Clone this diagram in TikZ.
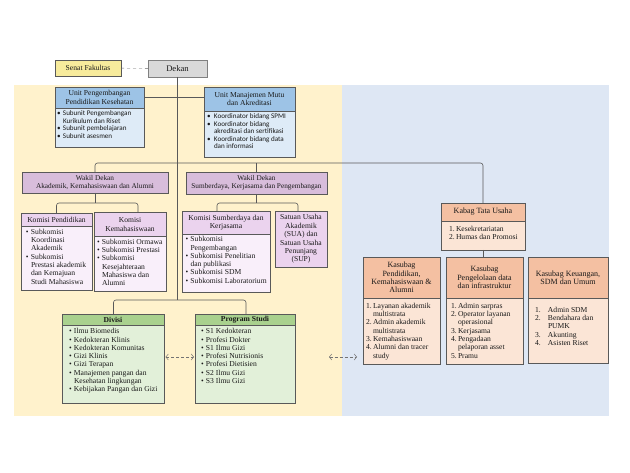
\documentclass[tikz,border=0pt]{standalone}
\usepackage{fontspec}
\setmainfont{Liberation Serif}
\newfontfamily\carlito{Carlito}
\usetikzlibrary{arrows.meta}
\definecolor{bgY}{HTML}{FFF2CC}
\definecolor{bgB}{HTML}{DEE7F4}
\definecolor{senat}{HTML}{F7EB9C}
\definecolor{dekan}{HTML}{D9D9D9}
\definecolor{uH}{HTML}{9DC3E6}
\definecolor{uB}{HTML}{DEEBF7}
\definecolor{wd}{HTML}{D8BDDB}
\definecolor{kH}{HTML}{EBD3EE}
\definecolor{kB}{HTML}{F9EFFA}
\definecolor{gH}{HTML}{A9D18E}
\definecolor{gB}{HTML}{E2F0D9}
\definecolor{oH}{HTML}{F4C0A2}
\definecolor{oB}{HTML}{FBE5D6}
\definecolor{ln}{HTML}{595959}
\newcommand{\hdrfont}{\fontsize{7.6}{8.4}\selectfont}
\newcommand{\wdfont}{\fontsize{7.3}{8.4}\selectfont}
\newcommand{\ksfont}{\fontsize{8}{8.4}\selectfont}
\newcommand{\bodyfont}{\fontsize{7.6}{8.3}\selectfont}
\newcommand{\unitfont}{\carlito\fontsize{7.1}{7.4}\selectfont}
\newcommand{\bitem}[2][6pt]{\par\noindent\hangindent=#1\hangafter=1\makebox[#1][l]{\textbullet}#2}
\newcommand{\numit}[3][7pt]{\par\noindent\hangindent=#1\hangafter=1\makebox[#1][l]{#2}#3}
\newcommand{\bb}[3]{\parbox[c][#2][t]{#1}{\raggedright #3}}
\begin{document}
\begin{tikzpicture}[x=1pt,y=-1pt,
  hdr/.style={draw=ln, line width=0.6pt, inner sep=0pt, outer sep=0pt, anchor=north west, align=center, font=\hdrfont, text=black!90},
  bdy/.style={draw=ln, line width=0.6pt, inner sep=0pt, outer sep=0pt, anchor=north west, font=\bodyfont, text=black!90},
  conn/.style={draw=ln, line width=0.6pt, rounded corners=2.5pt},
  darr/.style={draw=black!55, densely dashed, line width=0.5pt, {Straight Barb[length=2.5pt,width=6pt]}-{Straight Barb[length=2.5pt,width=6pt]}}]
\useasboundingbox (0,0) rectangle (630,473);
\fill[bgY] (14,85) rectangle (342,416);
\fill[bgB] (342,85) rectangle (609,416);

% top
\node[hdr, fill=senat, minimum width=66pt, minimum height=16pt, font=\fontsize{7.6}{8}\selectfont] (senat) at (55,60) {Senat Fakultas};
\node[hdr, fill=dekan, draw=black!50, minimum width=59pt, minimum height=17pt, font=\fontsize{8.6}{9}\selectfont] (dekan) at (148,60) {Dekan};

% units
\node[hdr, fill=uH, minimum width=89pt, minimum height=21pt] (upph) at (55,87) {Unit Pengembangan\\Pendidikan Kesehatan};
\node[bdy, fill=uB, font=\unitfont] (uppb) at (upph.south west) {\bb{89pt}{39pt}{\leftskip=2pt\relax\vspace*{3pt}\bitem{Subunit Pengembangan\newline Kurikulum dan Riset}\bitem{Subunit pembelajaran}\bitem{Subunit asesmen}}};
\node[hdr, fill=uH, minimum width=91pt, minimum height=24pt] (umuh) at (204,87) {Unit Manajemen Mutu\\dan Akreditasi};
\node[bdy, fill=uB, font=\unitfont] (umub) at (umuh.south west) {\bb{91pt}{46pt}{\leftskip=3pt\relax\vspace*{3pt}\bitem[7pt]{Koordinator bidang SPMI}\bitem[7pt]{Koordinator bidang\newline akreditasi dan sertifikasi}\bitem[7pt]{Koordinator bidang data\newline dan informasi}}};

% wakil dekan
\node[hdr, fill=wd, minimum width=146pt, minimum height=21pt, font=\wdfont] (wd1) at (22,172) {Wakil Dekan\\Akademik, Kemahasiswaan dan Alumni};
\node[hdr, fill=wd, minimum width=141pt, minimum height=22pt, font=\wdfont] (wd2) at (186,172) {Wakil Dekan\\Sumberdaya, Kerjasama dan Pengembangan};

% komisi
\node[hdr, fill=kH, minimum width=71pt, minimum height=13pt] (kph) at (21,213) {Komisi Pendidikan};
\node[bdy, fill=kB] (kpb) at (kph.south west) {\bb{71pt}{64pt}{\leftskip=5pt\relax\vspace*{3pt}\bitem[5pt]{Subkomisi\newline Koordinasi\newline Akademik}\bitem[5pt]{Subkomisi\newline Prestasi akademik\newline dan Kemajuan\newline Studi Mahasiswa}}};
\node[hdr, fill=kH, minimum width=72pt, minimum height=24pt] (kkh) at (94,212.5) {Komisi\\Kemahasiswaan};
\node[bdy, fill=kB] (kkb) at (kkh.south west) {\bb{72pt}{55pt}{\leftskip=3pt\relax\vspace*{2.5pt}\bitem[5pt]{Subkomisi Ormawa}\bitem[5pt]{Subkomisi Prestasi}\bitem[5pt]{Subkomisi\newline Kesejahteraan\newline Mahasiswa dan\newline Alumni}}};
\node[hdr, fill=kH, minimum width=88pt, minimum height=23pt] (ksh) at (182,211) {Komisi Sumberdaya dan\\Kerjasama};
\node[bdy, fill=kB] (ksb) at (ksh.south west) {\bb{88pt}{58pt}{\leftskip=3.5pt\relax\vspace*{2.5pt}\bitem[5pt]{Subkomisi\newline Pengembangan}\bitem[5pt]{Subkomisi Penelitian\newline dan publikasi}\bitem[5pt]{Subkomisi SDM}\bitem[5pt]{Subkomisi Laboratorium}}};
\node[hdr, fill=kH, minimum width=52pt, minimum height=56pt] (sua) at (275,211) {Satuan Usaha\\Akademik\\(SUA) dan\\Satuan Usaha\\Penunjang\\(SUP)};

% divisi & prodi
\node[hdr, fill=gH, minimum width=102pt, minimum height=11.5pt, font=\hdrfont\bfseries] (divh) at (62,314) {Divisi};
\node[bdy, fill=gB] (divb) at (divh.south west) {\bb{102pt}{77.5pt}{\leftskip=7pt\relax\vspace*{3pt}\bitem[5pt]{Ilmu Biomedis}\bitem[5pt]{Kedokteran Klinis}\bitem[5pt]{Kedokteran Komunitas}\bitem[5pt]{Gizi Klinis}\bitem[5pt]{Gizi Terapan}\bitem[5pt]{Manajemen pangan dan\newline Kesehatan lingkungan}\bitem[5pt]{Kebijakan Pangan dan Gizi}}};
\node[hdr, fill=gH, minimum width=100pt, minimum height=11.5pt, font=\hdrfont\bfseries] (prh) at (195,314) {Program Studi};
\node[bdy, fill=gB] (prb) at (prh.south west) {\bb{100pt}{78pt}{\leftskip=6pt\relax\vspace*{3pt}\bitem[5pt]{S1 Kedokteran}\bitem[5pt]{Profesi Dokter}\bitem[5pt]{S1 Ilmu Gizi}\bitem[5pt]{Profesi Nutrisionis}\bitem[5pt]{Profesi Dietisien}\bitem[5pt]{S2 Ilmu Gizi}\bitem[5pt]{S3 Ilmu Gizi}}};

% tata usaha
\node[hdr, fill=oH, minimum width=84pt, minimum height=18pt, font=\ksfont] (kabh) at (441,203) {Kabag Tata Usaha};
\node[bdy, fill=oB] (kabb) at (kabh.south west) {\bb{84pt}{29pt}{\leftskip=8pt\relax\vspace*{5pt}\numit[7pt]{1.}{Kesekretariatan}\numit[7pt]{2.}{Humas dan Promosi}}};
\node[hdr, fill=oH, minimum width=77pt, minimum height=41pt, font=\ksfont] (kpdh) at (363,257) {Kasubag\\Pendidikan,\\Kemahasiswaan \&\\Alumni};
\node[bdy, fill=oB] (kpdb) at (kpdh.south west) {\bb{77pt}{66pt}{\leftskip=3pt\relax\vspace*{5pt}\numit[7pt]{1.}{Layanan akademik\newline multistrata}\numit[7pt]{2.}{Admin akademik\newline multistrata}\numit[7pt]{3.}{Kemahasiswaan}\numit[7pt]{4.}{Alumni dan tracer\newline study}}};
\node[hdr, fill=oH, minimum width=77pt, minimum height=41pt, font=\ksfont] (kplh) at (446,257) {Kasubag\\Pengelolaan data\\dan infrastruktur};
\node[bdy, fill=oB] (kplb) at (kplh.south west) {\bb{77pt}{66pt}{\leftskip=5pt\relax\vspace*{5pt}\numit[7pt]{1.}{Admin sarpras}\numit[7pt]{2.}{Operator layanan\newline operasional}\numit[7pt]{3.}{Kerjasama}\numit[7pt]{4.}{Pengadaan\newline pelaporan asset}\numit[7pt]{5.}{Pramu}}};
\node[hdr, fill=oH, minimum width=80pt, minimum height=41pt, font=\ksfont] (kkuh) at (528,257) {Kasubag Keuangan,\\SDM dan Umum};
\node[bdy, fill=oB] (kkub) at (kkuh.south west) {\bb{80pt}{65pt}{\leftskip=7pt\relax\vspace*{9pt}\numit[13pt]{1.}{Admin SDM}\numit[13pt]{2.}{Bendahara dan\newline PUMK}\numit[13pt]{3.}{Akunting}\numit[13pt]{4.}{Asisten Riset}}};

% connectors
\coordinate (hbar) at (0,163);
\coordinate (b1) at (0,203);
\coordinate (b3) at (0,300);
\coordinate (kkdrop) at (138,212.5);
\coordinate (ksdrop) at (217,211);
\coordinate (suadrop) at (298,211);
\coordinate (divdrop) at (113.5,314);
\coordinate (prdrop) at (246,314);
\coordinate (kabdrop) at (483,203);
\coordinate (arry) at (0,357);
\coordinate (ra1) at (329,357);

\draw[dashed, black!60, line width=0.4pt] (senat) -- (dekan);
\draw[conn] (dekan.south) -- (dekan.south |- b3);
\draw[conn] (upph.east) -- (upph.east -| umuh.west);
\draw[conn] (wd1.north) |- (hbar -| kabdrop) -- (kabdrop);
\draw[conn] (wd2.north) -- (wd2.north |- hbar);
\draw[conn] (wd1.south) -- (wd1.south |- b1);
\draw[conn] (kph.north) |- (b1 -| kkdrop) -- (kkdrop);
\draw[conn] (wd2.south) -- (wd2.south |- b1);
\draw[conn] (ksdrop) |- (b1 -| suadrop) -- (suadrop);
\draw[conn] (divdrop) |- (b3 -| prdrop) -- (prdrop);
\draw[conn] (kabb.south -| kabdrop) -- (kplh.north -| kabdrop);
\draw[darr] ([xshift=1.5pt]divb.east |- arry) -- ([xshift=-1pt]prb.west |- arry);
\draw[darr] (ra1) -- ([xshift=-6pt]kpdb.west |- ra1);
\end{tikzpicture}
\end{document}
